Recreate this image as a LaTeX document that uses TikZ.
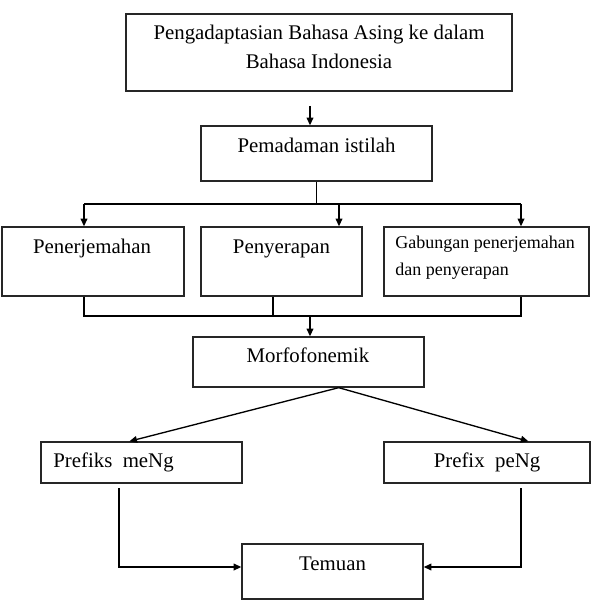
\documentclass[tikz,border=0pt]{standalone}
\usepackage{fontspec}
\setmainfont{Liberation Serif}
\usetikzlibrary{positioning, calc, fit, arrows.meta}

\begin{document}
\begin{tikzpicture}[x=0.6pt, y=-0.6pt,
    box/.style={draw=black!85, line width=0.8pt, inner sep=0pt},
    txt/.style={font=\fontsize{12.5}{17.4}\selectfont, anchor=base, inner sep=0pt},
    smalltxt/.style={font=\fontsize{10.8}{16}\selectfont, anchor=base west, inner sep=0pt},
    line/.style={line width=0.8pt},
    arr/.style={line, -{Triangle[length=4.6pt, width=4pt]}}]
  \useasboundingbox (0,0) rectangle (596,602);

  % Boxes
  \node[box, fit={(126,14) (512,91)}] (adapt) {};
  \node[box, fit={(201,126) (432,181)}] (pem) {};
  \node[box, fit={(2,227) (184,296)}] (pen) {};
  \node[box, fit={(201,227) (362,296)}] (pny) {};
  \node[box, fit={(384,227) (589,296)}] (gab) {};
  \node[box, fit={(193,337) (424,387)}] (mor) {};
  \node[box, fit={(41,442) (242,483)}] (meng) {};
  \node[box, fit={(384,442) (590,483)}] (peng) {};
  \node[box, fit={(242,544) (423,599)}] (tem) {};

  % Texts
  \node[txt] (adaptA) at (319,40) {Pengadaptasian Bahasa Asing ke dalam};
  \node[txt] (adaptB) at (319,69) {Bahasa Indonesia};
  \node[txt] (pemtx) at (316.5,153) {Pemadaman istilah};
  \node[txt] (pentx) at (92,254) {Penerjemahan};
  \node[txt] (pnytx) at (281.5,254) {Penyerapan};
  \node[smalltxt] (gabA) at (395,249) {Gabungan penerjemahan};
  \node[smalltxt] (gabB) at (395,276) {dan penyerapan};
  \node[txt] (mortx) at (308,362) {Morfofonemik};
  \node[txt, anchor=base west] (mengtx) at (53,467) {Prefiks\ \ meNg};
  \node[txt] (pengtx) at (487,467) {Prefix\ \ peNg};
  \node[txt] (temtx) at (332.5,570) {Temuan};

  % Junction points
  \coordinate (start) at (310,106);
  \coordinate (jA) at (84,204);
  \coordinate (jB) at (339,204);
  \coordinate (jC) at (521,204);
  \coordinate (kA) at (84,316);
  \coordinate (kB) at (273,316);
  \coordinate (kC) at (521,316);
  \coordinate (kM) at (310,316);
  \coordinate (lA) at (119,488);
  \coordinate (lB) at (119,567);
  \coordinate (rA) at (521,488);
  \coordinate (rB) at (521,567);

  % Connections
  \draw[arr] (start) -- (start |- pem.north);
  \draw[line] (pem.south) -- (pem.south |- jA);
  \draw[line] (jA) -- (jC);
  \draw[arr] (jA) -- (jA |- pen.north);
  \draw[arr] (jB) -- (jB |- pny.north);
  \draw[arr] (jC) -- (jC |- gab.north);
  \draw[line] (kA |- pen.south) -- (kA) -- (kC) -- (kC |- gab.south);
  \draw[line] (kB |- pny.south) -- (kB);
  \draw[arr] (kM) -- (kM |- mor.north);
  \draw[arr] ($(mor.south west)!0.63!(mor.south east)$) -- ($(meng.north west)!0.44!(meng.north east)$);
  \draw[arr] ($(mor.south west)!0.63!(mor.south east)$) -- ($(peng.north west)!0.70!(peng.north east)$);
  \draw[arr] (lA) -- (lB) -- (lB -| tem.west);
  \draw[arr] (rA) -- (rB) -- (rB -| tem.east);
\end{tikzpicture}
\end{document}
